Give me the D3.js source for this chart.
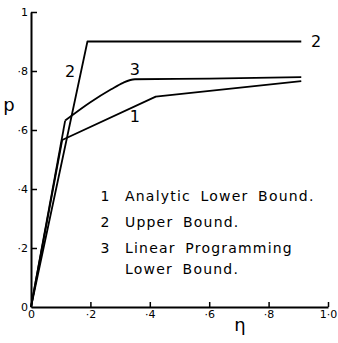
<!DOCTYPE html>
<html>
<head>
<meta charset="utf-8">
<script src="https://cdn.jsdelivr.net/npm/d3@7"></script>
<style>
  body { margin: 0; background: #fff; }
  text { font-family: "DejaVu Sans", sans-serif; fill: #000; }
</style>
</head>
<body>
<svg id="chart" width="338" height="343"></svg>
<script>
// values (eta, p)
const analyticLower = [[0, 0], [0.105, 0.566], [0.42, 0.713], [0.91, 0.766]];
const upperBound = [[0, 0], [0.19, 0.9], [0.91, 0.9]];
const linearProg = [[0, 0], [0.115, 0.632], [0.2, 0.694], [0.27, 0.738],
  [0.31, 0.76], [0.35, 0.772], [0.6, 0.774], [0.91, 0.779]];

const xTicks = [0, 0.2, 0.4, 0.6, 0.8, 1.0];
const yTicks = [0, 0.2, 0.4, 0.6, 0.8, 1.0];
const legendItems = [
  ["1", "Analytic Lower Bound."],
  ["2", "Upper Bound."],
  ["3", "Linear Programming", "Lower Bound."]
];

const svg = d3.select("#chart");

const x = d3.scaleLinear().domain([0, 1]).range([31, 328]);
const y = d3.scaleLinear().domain([0, 1]).range([307, 12]);

const fmt = (d, axis) => {
  if (d === 0) return "0";
  if (d === 1) return axis === "x" ? "1\u00b70" : "1";
  return "\u00b7" + Math.round(d * 10);
};

const xAxis = svg.append("g")
  .attr("transform", `translate(0,${y(0)})`)
  .call(d3.axisBottom(x).tickValues(xTicks).tickSize(-5).tickSizeOuter(0).tickPadding(3)
    .tickFormat(d => fmt(d, "x")));

const yAxis = svg.append("g")
  .attr("transform", `translate(${x(0)},0)`)
  .call(d3.axisLeft(y).tickValues(yTicks).tickSize(-6).tickSizeOuter(0).tickPadding(3)
    .tickFormat(d => fmt(d, "y")));

[xAxis, yAxis].forEach(a => {
  a.select(".domain").attr("stroke", "#000").attr("stroke-width", 2);
  a.selectAll(".tick line").attr("stroke", "#000").attr("stroke-width", 1.5);
  a.selectAll(".tick text").style("font-size", "11px").attr("fill", "#000");
});
xAxis.selectAll(".tick").filter(d => d === 0).select("line").remove();
yAxis.selectAll(".tick").filter(d => d === 0).select("line").remove();

const line = d3.line().x(d => x(d[0])).y(d => y(d[1]));
const smooth = d3.line().x(d => x(d[0])).y(d => y(d[1])).curve(d3.curveMonotoneX);

const drawPath = (s, gen) => svg.append("path")
  .datum(s)
  .attr("d", gen)
  .attr("fill", "none")
  .attr("stroke", "#000")
  .attr("stroke-width", 1.8)
  .attr("stroke-linejoin", "round");

drawPath(analyticLower, line);
drawPath(upperBound, line);
// straight rise to the knee, then a smooth bend
drawPath(linearProg.slice(0, 2), line);
drawPath(linearProg.slice(1), smooth);

// curve numbers
const curveLabels = [
  ["2", 0.132, 0.8],
  ["3", 0.35, 0.805],
  ["1", 0.35, 0.645],
  ["2", 0.96, 0.9]
];
svg.selectAll(".clabel")
  .data(curveLabels)
  .enter()
  .append("text")
  .attr("class", "clabel")
  .attr("x", d => x(d[1]))
  .attr("y", d => y(d[2]))
  .attr("dy", "0.36em")
  .attr("text-anchor", "middle")
  .style("font-size", "16px")
  .text(d => d[0]);

// legend
const rowY = [196, 222, 248, 269];
let r = 0;
legendItems.forEach(item => {
  svg.append("text")
    .attr("x", 105).attr("y", rowY[r]).attr("dy", "0.36em")
    .attr("text-anchor", "middle")
    .style("font-size", "14px")
    .text(item[0]);
  item.slice(1).forEach(t => {
    svg.append("text")
      .attr("x", 125).attr("y", rowY[r]).attr("dy", "0.36em")
      .style("font-size", "14px")
      .style("letter-spacing", "1.2px")
      .style("word-spacing", "4px")
      .text(t);
    r++;
  });
});

// axis titles
svg.append("text")
  .attr("x", 9).attr("y", 105).attr("dy", "0.36em")
  .attr("text-anchor", "middle")
  .style("font-size", "18px")
  .text("p");

svg.append("text")
  .attr("x", 240).attr("y", 325).attr("dy", "0.36em")
  .attr("text-anchor", "middle")
  .style("font-size", "18px")
  .text("\u03b7");
</script>
</body>
</html>
